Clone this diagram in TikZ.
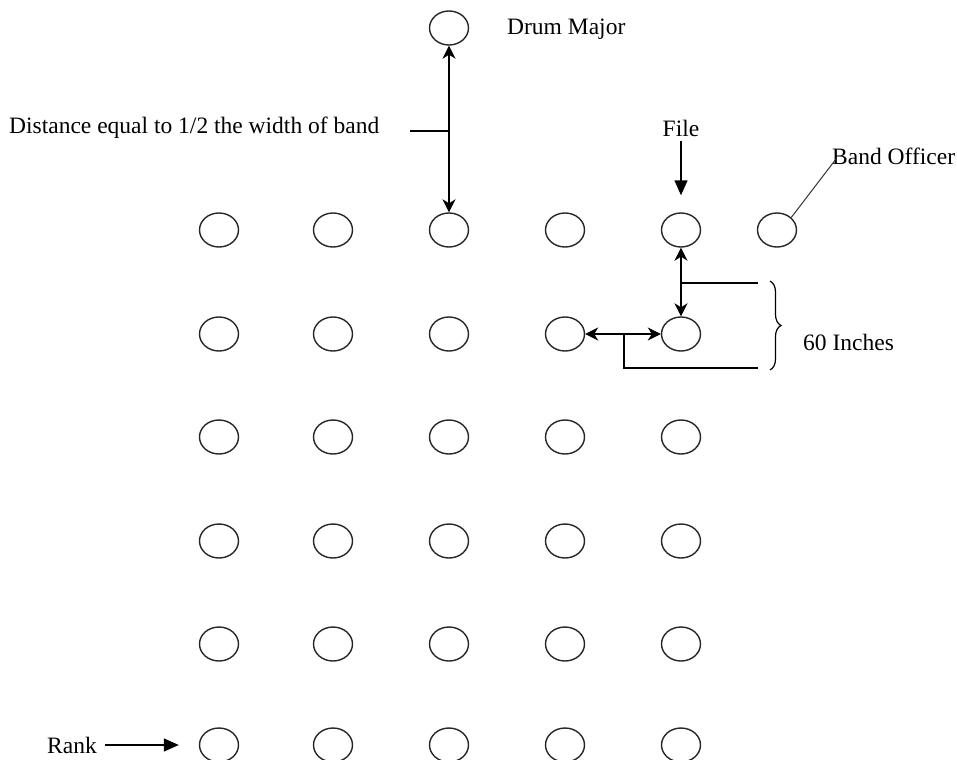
\documentclass[tikz,border=0pt]{standalone}
\usepackage{fontspec}
\setmainfont{Liberation Serif}
\usetikzlibrary{shapes.geometric,arrows.meta,decorations.pathreplacing}
\begin{document}
\begin{tikzpicture}[x=1bp,y=-1bp,
  member/.style={draw=black!85, line width=1.4bp, ellipse, minimum width=39bp, minimum height=34bp, inner sep=0pt},
  lbl/.style={font=\fontsize{23.5bp}{28bp}\selectfont, inner sep=0pt, text=black},
  conn/.style={line width=1.4bp, draw=black},
  dbl/.style={conn, {Stealth[length=13bp,width=13bp,inset=4bp]}-{Stealth[length=13bp,width=13bp,inset=4bp]}},
  tri/.style={conn, -{Triangle[length=15bp,width=13bp]}}]
\useasboundingbox (0,0) rectangle (957,760);
% grid of band members
\foreach \c/\x in {1/219,2/333,3/449,4/565,5/681}{
  \foreach \r/\y in {1/230,2/334,3/437,4/541,5/644,6/745}{
    \node[member] (r\r c\c) at (\x,\y) {};
  }
}
\node[member] (r1c6) at (777,230) {};
\node[member] (dm) at (449,28) {};
% labels
\node[lbl, anchor=west] (dmlabel) at (507,29) {Drum Major};
\node[lbl, anchor=west] (dist) at (9,128) {Distance equal to 1/2 the width of band};
\node[lbl] (file) at (681,128) {File};
\node[lbl, anchor=west] (bolabel) at (832,156) {Band Officer};
\node[lbl, anchor=west] (inches) at (803,342) {60 Inches};
\node[lbl, anchor=east] (rank) at (97,745) {Rank};
% drum major distance
\draw[dbl] (dm.south) -- (r1c3.north);
\coordinate (tickL) at (410,131);
\draw[conn] (tickL) -- (tickL -| dm);
% file arrow
\draw[tri, shorten <=5bp, shorten >=17bp] (file.south) -- (r1c5.north);
% band officer leader
\coordinate (boEnd) at (836,159);
\draw[line width=1bp, draw=black!80] (r1c6.north east) -- (boEnd);
% 60 inches spacing
\draw[dbl] (r1c5.south) -- (r2c5.north);
\draw[dbl] (r2c4.east) -- (r2c5.west);
\coordinate (topEnd) at (758,283);
\coordinate (botEnd) at (758,368);
\coordinate (hStart) at (624,334);
\draw[conn] (topEnd -| r1c5) -- (topEnd);
\draw[conn] (hStart) -- (hStart |- botEnd) -- (botEnd);
\draw[line width=1.2bp, decorate, decoration={brace, amplitude=11bp, mirror}] (770,370) -- (770,281);
% rank arrow
\draw[tri, shorten <=8bp, shorten >=20bp] (rank.east) -- (r6c1.west);
\end{tikzpicture}
\end{document}
